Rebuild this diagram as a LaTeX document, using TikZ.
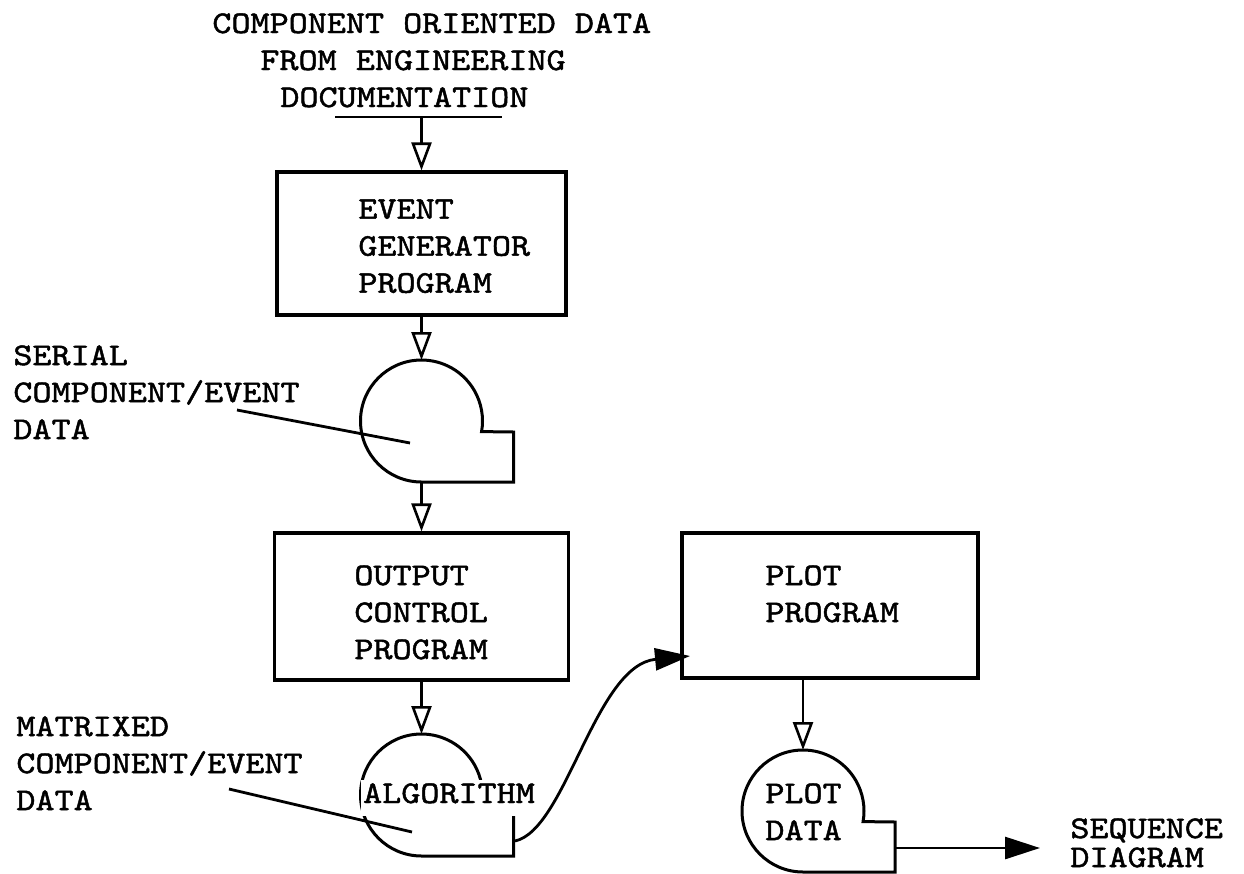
\documentclass[tikz,border=0pt]{standalone}
\usepackage{fontspec}
\newfontfamily\typefont{lmmono10-regular}[Extension=.otf, FakeStretch=1.15, FakeBold=1.5]
\usetikzlibrary{arrows.meta,positioning}

\begin{document}
\begin{tikzpicture}[x=0.5pt,y=-0.5pt,
    every node/.style={font=\typefont\fontsize{15.8}{18.5}\selectfont, inner sep=0pt, align=left},
    box/.style={draw, line width=1.6pt},
    tape/.style={line width=1.5pt},
    leader/.style={line width=1.4pt},
    openarrow/.style={line width=1.2pt, -{Triangle[open,length=14pt,width=10pt,line width=1.3pt]}},
    fillarrow/.style={line width=1.4pt, -{Triangle[length=17.5pt,width=11pt]}}]
            \useasboundingbox (0,0) rectangle (1244,874);

            % Source data
            \node[anchor=base west] (src1) at (212,33) {COMPONENT ORIENTED DATA};
            \node[anchor=base west] (src2) at (260,70) {FROM ENGINEERING};
            \node[anchor=base west] (src3) at (280,107) {DOCUMENTATION};
            \draw[line width=1.4pt] (335,117) -- (502,117);
            \coordinate (srcbar) at (421.5,117);

            % Program boxes
            \node[box, minimum width=144.5pt, minimum height=71.5pt] (evgen) at (421.5,243.5) {};
            \node[anchor=north west] (evgentxt) at (358,199) {EVENT\\GENERATOR\\PROGRAM};
            \node[box, minimum width=147pt, minimum height=73.5pt] (outctl) at (421.5,606.5) {};
            \node[anchor=north west] (outctltxt) at (354,565) {OUTPUT\\CONTROL\\PROGRAM};
            \node[box, minimum width=148pt, minimum height=72.5pt] (plotprog) at (830,605.5) {};
            \node[anchor=north west] (plotprogtxt) at (765,565) {PLOT\\PROGRAM};

            % Tapes
            \coordinate (serial) at (421.5,421);
            \coordinate (algo) at (421.5,795);
            \coordinate (plotdata) at (803,811);
            \draw[tape, shift={(serial)}] (0,61) arc[start angle=270, end angle=-10, radius=30.5pt] -- (92,11) -- (92,61) -- cycle;
            \draw[tape, shift={(algo)}] (0,61) arc[start angle=270, end angle=-10, radius=30.5pt] -- (92,11) -- (92,61) -- cycle;
            \draw[tape, shift={(plotdata)}] (0,61) arc[start angle=270, end angle=-10, radius=30.5pt] -- (92,11) -- (92,61) -- cycle;
            \node[fill=white, inner xsep=1pt, inner ysep=1.5pt, text depth=5pt, anchor=base] (algtxt) at (449,803) {ALGORITHM};
            \node[anchor=north west] (plotdatatxt) at (765,783) {PLOT\\DATA};

            % Labels
            \node[anchor=north west] (serialtxt) at (13,345) {SERIAL\\COMPONENT/EVENT\\DATA};
            \node[anchor=north west] (matrixtxt) at (16,716) {MATRIXED\\COMPONENT/EVENT\\DATA};
            \node[anchor=north west, font=\typefont\fontsize{15.8}{14.5}\selectfont] (seq) at (1070,818) {SEQUENCE\\DIAGRAM};
            \coordinate (serialfrom) at (237,410);
            \coordinate (serialto) at (410,443);
            \coordinate (matrixfrom) at (229,789);
            \coordinate (matrixto) at (412,832);
            \draw[leader] (serialfrom) -- (serialto);
            \draw[leader] (matrixfrom) -- (matrixto);

            % Flow
            \coordinate (algout) at (515,841);
            \coordinate (plotin) at (690,656);
            \coordinate (plotout) at (895,848);
            \coordinate (seqin) at (1040,848);
            \draw[openarrow] (srcbar) -- (evgen.north);
            \draw[openarrow] (evgen.south) -- ([yshift=30.5pt]serial);
            \draw[openarrow] ([yshift=-30.5pt]serial) -- (outctl.north);
            \draw[openarrow] (outctl.south) -- ([yshift=30.5pt]algo);
            \draw[openarrow] (plotprog.south -| plotdata) -- ([yshift=30.5pt]plotdata);
            \draw[fillarrow] (algout) .. controls (566,830) and (595,665) .. (plotin);
            \draw[fillarrow] (plotout) -- (seqin);
        \end{tikzpicture}
\end{document}
